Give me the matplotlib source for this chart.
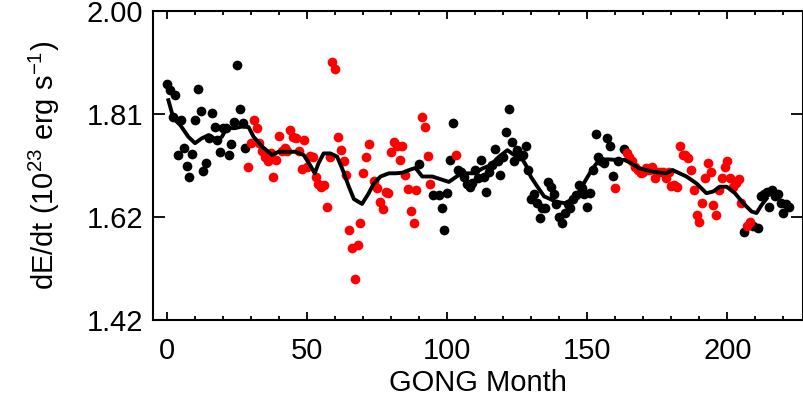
import numpy as np
import matplotlib
matplotlib.use('Agg')
import matplotlib.pyplot as plt
from matplotlib.ticker import MultipleLocator, FixedLocator

plt.rcParams['font.family'] = ['Liberation Sans', 'DejaVu Sans']
plt.rcParams['mathtext.fontset'] = 'custom'
plt.rcParams['mathtext.rm'] = 'Liberation Sans'
plt.rcParams['mathtext.default'] = 'regular'

# black points (GONG month, dE/dt)
black_month = [0, 1, 2, 3, 4, 5, 6, 7, 8, 9, 10, 11, 12, 13, 14, 15, 16, 17, 18, 19,
               20, 21, 22, 23, 24, 25, 26, 27, 28,
               90, 95, 97, 98, 99, 100, 101, 102, 104, 105, 106, 107, 108, 109, 110,
               111, 112, 113, 114, 115, 116, 117, 118, 119, 120, 121, 122, 123, 124,
               125, 126, 127, 128, 129, 130, 131, 132, 133, 134, 135, 136, 137, 138,
               139, 140, 141, 142, 143, 144, 145, 146, 147, 148, 149, 150, 151, 152,
               153, 154, 155, 156, 157, 158, 159, 161, 163,
               206, 209, 211, 212, 213, 214, 215, 216, 217, 218, 219, 220, 221, 222]
black_val = [1.865, 1.853, 1.803, 1.844, 1.732, 1.797, 1.745, 1.712, 1.692, 1.733,
             1.797, 1.854, 1.813, 1.702, 1.717, 1.763, 1.811, 1.784, 1.760, 1.738,
             1.782, 1.782, 1.732, 1.753, 1.794, 1.899, 1.818, 1.792, 1.746,
             1.716, 1.658, 1.658, 1.633, 1.593, 1.661, 1.723, 1.792, 1.704, 1.700,
             1.692, 1.679, 1.673, 1.680, 1.704, 1.690, 1.723, 1.692, 1.664, 1.700,
             1.713, 1.744, 1.720, 1.695, 1.729, 1.774, 1.817, 1.757, 1.720, 1.741,
             1.730, 1.732, 1.748, 1.704, 1.651, 1.660, 1.642, 1.614, 1.633, 1.633,
             1.682, 1.673, 1.660, 1.640, 1.617, 1.606, 1.624, 1.640, 1.633, 1.650,
             1.658, 1.676, 1.670, 1.660, 1.636, 1.661, 1.704, 1.771, 1.729, 1.720,
             1.717, 1.763, 1.749, 1.693, 1.720, 1.743,
             1.588, 1.600, 1.596, 1.655, 1.660, 1.664, 1.636, 1.667, 1.655, 1.660,
             1.642, 1.624, 1.640, 1.636]

# red points
red_month = [29, 30, 31, 32, 33, 34, 35, 36, 37, 38, 39, 40, 41, 42, 43, 44, 45, 46,
             47, 48, 49, 50, 51, 52, 53, 54, 55, 56, 57, 58, 59, 60, 61, 62, 63, 64,
             65, 66, 67, 68, 69, 70, 71, 72, 74, 75, 76, 77, 78, 79, 80, 81, 82, 83,
             84, 85, 86, 87, 88, 89, 91, 92, 93, 94, 103,
             160, 164, 165, 166, 167, 168, 169, 170, 171, 172, 173, 174, 175, 176,
             177, 178, 179, 180, 181, 182, 183, 184, 185, 186, 187, 188, 189, 190,
             191, 192, 193, 194, 195, 196, 197, 198, 199, 200, 201, 202, 203, 204,
             205, 207, 208]
red_val = [1.709, 1.754, 1.798, 1.783, 1.754, 1.740, 1.729, 1.720, 1.735, 1.692,
           1.723, 1.768, 1.740, 1.745, 1.740, 1.779, 1.766, 1.763, 1.740, 1.706,
           1.760, 1.710, 1.730, 1.729, 1.692, 1.679, 1.673, 1.676, 1.636, 1.729,
           1.906, 1.893, 1.765, 1.741, 1.720, 1.695, 1.593, 1.559, 1.501, 1.565,
           1.606, 1.698, 1.728, 1.753, 1.683, 1.670, 1.645, 1.631, 1.664, 1.662,
           1.737, 1.757, 1.748, 1.723, 1.748, 1.695, 1.668, 1.627, 1.606, 1.667,
           1.803, 1.785, 1.730, 1.679, 1.732,
           1.671, 1.735, 1.729, 1.720, 1.710, 1.705, 1.698, 1.700, 1.707, 1.705,
           1.710, 1.689, 1.700, 1.700, 1.701, 1.690, 1.700, 1.674, 1.676, 1.673,
           1.748, 1.732, 1.732, 1.726, 1.704, 1.666, 1.620, 1.608, 1.643, 1.689,
           1.718, 1.700, 1.639, 1.620, 1.667, 1.689, 1.710, 1.720, 1.690, 1.673,
           1.680, 1.687, 1.642, 1.599, 1.608]

# smoothed curve
line_month = [0.5, 2.3, 4.7, 7.6, 10, 12.4, 14.8, 17.8, 19.6, 21.3, 24.3, 26.7, 29.1,
              30.9, 33.9, 37.5, 39.8, 43.4, 45.8, 48.8, 51.1, 52.7, 54.1, 55.9, 58.3,
              60.7, 62.5, 64.9, 66.7, 69.6, 72, 73.8, 76.2, 79.2, 81.6, 84, 86.3, 88.7,
              91.1, 94.7, 98.2, 100.6, 104.2, 106.6, 109.6, 112.6, 115.5, 118.5, 121.5,
              123.9, 126.3, 128.1, 129.8, 132.2, 134.6, 136.4, 138.8, 142.4, 144.7,
              147.1, 149.5, 151.9, 154.3, 157.3, 160.2, 163.2, 165.6, 168.6, 171,
              173.4, 176.3, 178.1, 180.5, 182.9, 185.4, 189, 192.5, 194.9, 197.3,
              199.7, 202.7, 205.7, 208.6, 210.4, 212.2, 214]
line_val = [1.834, 1.800, 1.788, 1.766, 1.754, 1.763, 1.769, 1.760, 1.766, 1.782,
            1.782, 1.785, 1.784, 1.766, 1.748, 1.732, 1.738, 1.738, 1.738, 1.732,
            1.713, 1.698, 1.717, 1.735, 1.735, 1.729, 1.707, 1.673, 1.650, 1.641,
            1.661, 1.679, 1.692, 1.698, 1.698, 1.699, 1.704, 1.708, 1.692, 1.692,
            1.686, 1.682, 1.695, 1.698, 1.698, 1.707, 1.713, 1.729, 1.741, 1.732,
            1.729, 1.713, 1.692, 1.673, 1.655, 1.651, 1.645, 1.642, 1.651, 1.664,
            1.686, 1.707, 1.723, 1.724, 1.723, 1.723, 1.717, 1.707, 1.704, 1.701,
            1.699, 1.698, 1.704, 1.698, 1.692, 1.679, 1.661, 1.664, 1.673, 1.673,
            1.661, 1.642, 1.627, 1.624, 1.639, 1.651]

y_ticks = np.linspace(1.425, 2.0, 4)
y_labels = ['1.42', '1.62', '1.81', '2.00']
x_ticks = [0, 50, 100, 150, 200]

fig = plt.figure(figsize=(8.04, 4.05), dpi=100)
ax = fig.add_axes([0.1903, 0.2099, 0.8085, 0.7629])

ax.plot(black_month, black_val, 'o', color='black', ms=7, mec='none')
ax.plot(red_month, red_val, 'o', color='#ff0000', ms=7, mec='none')
ax.plot(line_month, line_val, '-', color='black', lw=2.8)

ax.set_xlim(-5, 227)
ax.set_ylim(1.425, 2.0)
ax.xaxis.set_major_locator(FixedLocator(x_ticks))
ax.xaxis.set_minor_locator(MultipleLocator(10))
ax.yaxis.set_major_locator(FixedLocator(y_ticks))
ax.set_yticklabels(y_labels)

ax.tick_params(axis='both', which='both', direction='in', top=True, right=True,
               labelsize=21, width=1.3)
ax.tick_params(axis='x', which='major', length=6, pad=12)
ax.tick_params(axis='x', which='minor', length=3)
ax.tick_params(axis='y', which='major', length=8.6, pad=7)
for s in ax.spines.values():
    s.set_linewidth(1.5)

ax.set_xlabel('GONG Month', fontsize=21)
ax.set_ylabel('dE/dt (10$^{23}$ erg s$^{-1}$)', fontsize=21)
ax.xaxis.set_label_coords(0.5, -0.16)
ax.yaxis.set_label_coords(-0.14, 0.5)

fig.savefig('out.png', dpi=100)
